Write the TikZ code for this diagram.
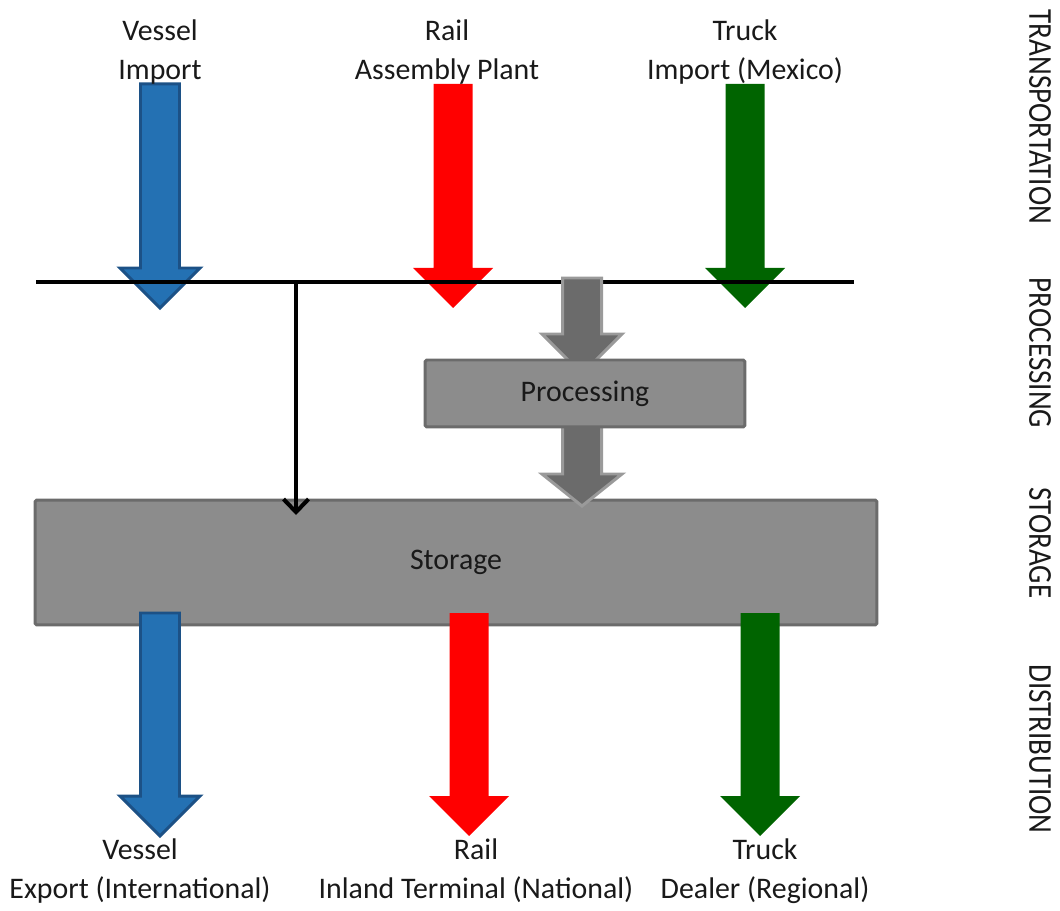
\documentclass[tikz,border=0pt]{standalone}
\usepackage{fontspec}
\setmainfont{Carlito}
\usetikzlibrary{arrows.meta, calc}
\definecolor{mBlue}{HTML}{2471B3}
\definecolor{mBlueDk}{HTML}{1C5186}
\definecolor{mRed}{HTML}{FF0000}
\definecolor{mGreen}{HTML}{006400}
\definecolor{mGrayDk}{HTML}{6B6B6B}
\definecolor{mGray}{HTML}{8C8C8C}
\definecolor{mGrayLt}{HTML}{9A9A9A}

\tikzset{
  head len/.store in=\hlen, head len=40,
  blockarrow/.style={line width=1.7pt, line join=miter,
    to path={($(\tikztostart)+(-19.5,0)$) -- ($(\tikztotarget)+(-19.5,-\hlen)$)
      -- ($(\tikztotarget)+(-40,-\hlen)$) -- (\tikztotarget)
      -- ($(\tikztotarget)+(40,-\hlen)$) -- ($(\tikztotarget)+(19.5,-\hlen)$)
      -- ($(\tikztostart)+(19.5,0)$) -- cycle}},
  grayarr/.style={blockarrow, fill=mGrayDk, draw=mGrayLt},
  box/.style={draw=mGrayDk, fill=mGray, line width=1.7pt, rounded corners=1pt},
  lbl/.style={align=center, text=black!90, font=\fontsize{17}{22}\selectfont},
  side/.style={rotate=-90, text=black!90, font=\fontsize{19}{22}\selectfont}
}

\begin{document}
\begin{tikzpicture}[x=0.02cm, y=-0.02cm]
  \useasboundingbox (0,0) rectangle (1060,911);
  % incoming flows
  \foreach \n/\x/\lx/\fc/\dc/\ta/\tb in {vi/160/160/mBlue/mBlueDk/Vessel/Import,
      ri/453/447/mRed/none/Rail/Assembly Plant,
      ti/745/745/mGreen/none/Truck/Import (Mexico)} {
    \coordinate (\n-s) at (\x,84);
    \coordinate (\n-e) at (\x,308);
    \draw[blockarrow, fill=\fc, draw=\dc] (\n-s) to (\n-e);
    \node[lbl] (\n-l) at (\lx,52) {\ta\\\tb};
  }
  \coordinate (busL) at (36,282);
  \coordinate (busR) at (854,282);
  \coordinate (tap) at (296,282);
  \coordinate (tapend) at (296,515);
  \draw[line width=2.8pt] (busL) -- (busR);

  \node[box, minimum width=16.84cm, minimum height=2.5cm, lbl] (storage) at (456,562.5) {Storage};
  \draw[line width=2.3pt, -{Straight Barb[length=2.6mm, width=5mm]}] (tap) -- (tapend);

  % processing
  \coordinate (gin) at (582,278);
  \coordinate (gtip) at (582,374);
  \coordinate (gout) at (582,506);
  \draw[grayarr] (gin) to (gtip);
  \draw[grayarr, head len=32] (582,420) to (gout);
  \node[box, minimum width=6.4cm, minimum height=1.34cm, lbl] (proc) at (585,393.5) {Processing};

  % outgoing flows
  \foreach \n/\x/\lx/\fc/\dc/\ta/\tb in {vo/160/140/mBlue/mBlueDk/Vessel/Export (International),
      ro/469/476/mRed/none/Rail/Inland Terminal (National),
      to/760/765/mGreen/none/Truck/Dealer (Regional)} {
    \coordinate (\n-s) at (\x,613);
    \coordinate (\n-e) at (\x,836);
    \draw[blockarrow, fill=\fc, draw=\dc] (\n-s) to (\n-e);
    \node[lbl] (\n-l) at (\lx,871) {\ta\\\tb};
  }

  \node[side] (s-tr) at (1040,117) {\scalebox{0.87}[1]{TRANSPORTATION}};
  \node[side] (s-pr) at (1040,353) {\scalebox{0.87}[1]{PROCESSING}};
  \node[side] (s-st) at (1040,543) {\scalebox{0.87}[1]{STORAGE}};
  \node[side] (s-di) at (1040,749) {\scalebox{0.87}[1]{DISTRIBUTION}};
\end{tikzpicture}
\end{document}
